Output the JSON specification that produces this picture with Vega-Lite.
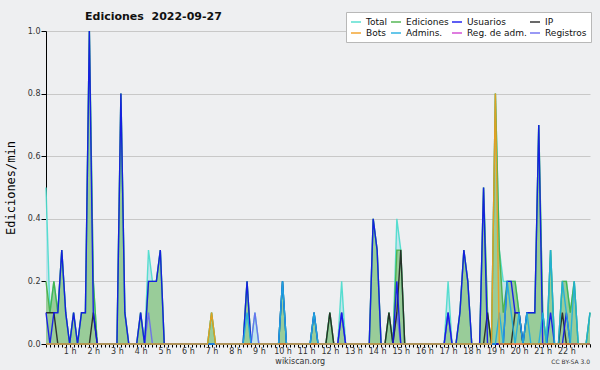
{
  "$schema": "https://vega.github.io/schema/vega-lite/v6.json",
  "width": 544,
  "height": 313,
  "autosize": {"type": "none"},
  "padding": {"left": 46, "top": 31, "right": 10, "bottom": 26},
  "background": "#eeeff1",
  "config": {"view": {"stroke": null}, "font": "DejaVu Sans"},
  "title": {"text": "Ediciones\u00a0\u00a02022-09-27", "anchor": "start", "frame": "group", "dx": 39, "offset": 0, "dy": 10, "fontSize": 11, "font": "DejaVu Sans", "fontWeight": "bold", "color": "#111111"},
  "data": {"values": [
    {"t":0,"Total":0.5,"Ediciones":0.2,"Usuarios":0.1,"IP":0.1,"Bots":0,"Admins":0,"RegAdm":0,"Registros":0},
    {"t":10,"Total":0.1,"Ediciones":0.1,"Usuarios":0,"IP":0.1,"Bots":0,"Admins":0,"RegAdm":0,"Registros":0},
    {"t":20,"Total":0.2,"Ediciones":0.2,"Usuarios":0.1,"IP":0.1,"Bots":0,"Admins":0,"RegAdm":0,"Registros":0},
    {"t":30,"Total":0.1,"Ediciones":0.1,"Usuarios":0.1,"IP":0,"Bots":0,"Admins":0,"RegAdm":0,"Registros":0},
    {"t":40,"Total":0.3,"Ediciones":0.3,"Usuarios":0.3,"IP":0,"Bots":0,"Admins":0,"RegAdm":0,"Registros":0},
    {"t":50,"Total":0.1,"Ediciones":0.1,"Usuarios":0.1,"IP":0,"Bots":0,"Admins":0,"RegAdm":0,"Registros":0},
    {"t":60,"Total":0,"Ediciones":0,"Usuarios":0,"IP":0,"Bots":0,"Admins":0,"RegAdm":0,"Registros":0},
    {"t":70,"Total":0.1,"Ediciones":0.1,"Usuarios":0.1,"IP":0,"Bots":0,"Admins":0,"RegAdm":0,"Registros":0},
    {"t":80,"Total":0,"Ediciones":0,"Usuarios":0,"IP":0,"Bots":0,"Admins":0,"RegAdm":0,"Registros":0},
    {"t":90,"Total":0.1,"Ediciones":0.1,"Usuarios":0.1,"IP":0,"Bots":0,"Admins":0,"RegAdm":0,"Registros":0},
    {"t":100,"Total":0.1,"Ediciones":0.1,"Usuarios":0.1,"IP":0,"Bots":0,"Admins":0,"RegAdm":0,"Registros":0},
    {"t":110,"Total":1,"Ediciones":1,"Usuarios":1,"IP":0,"Bots":0,"Admins":0,"RegAdm":0,"Registros":0},
    {"t":120,"Total":0.2,"Ediciones":0.2,"Usuarios":0.1,"IP":0.1,"Bots":0,"Admins":0,"RegAdm":0,"Registros":0},
    {"t":130,"Total":0,"Ediciones":0,"Usuarios":0,"IP":0,"Bots":0,"Admins":0,"RegAdm":0,"Registros":0},
    {"t":140,"Total":0,"Ediciones":0,"Usuarios":0,"IP":0,"Bots":0,"Admins":0,"RegAdm":0,"Registros":0},
    {"t":150,"Total":0,"Ediciones":0,"Usuarios":0,"IP":0,"Bots":0,"Admins":0,"RegAdm":0,"Registros":0},
    {"t":160,"Total":0,"Ediciones":0,"Usuarios":0,"IP":0,"Bots":0,"Admins":0,"RegAdm":0,"Registros":0},
    {"t":170,"Total":0,"Ediciones":0,"Usuarios":0,"IP":0,"Bots":0,"Admins":0,"RegAdm":0,"Registros":0},
    {"t":180,"Total":0,"Ediciones":0,"Usuarios":0,"IP":0,"Bots":0,"Admins":0,"RegAdm":0,"Registros":0},
    {"t":190,"Total":0.8,"Ediciones":0.8,"Usuarios":0.8,"IP":0,"Bots":0,"Admins":0,"RegAdm":0,"Registros":0},
    {"t":200,"Total":0.1,"Ediciones":0.1,"Usuarios":0.1,"IP":0,"Bots":0,"Admins":0,"RegAdm":0,"Registros":0},
    {"t":210,"Total":0,"Ediciones":0,"Usuarios":0,"IP":0,"Bots":0,"Admins":0,"RegAdm":0,"Registros":0},
    {"t":220,"Total":0,"Ediciones":0,"Usuarios":0,"IP":0,"Bots":0,"Admins":0,"RegAdm":0,"Registros":0},
    {"t":230,"Total":0,"Ediciones":0,"Usuarios":0,"IP":0,"Bots":0,"Admins":0,"RegAdm":0,"Registros":0},
    {"t":240,"Total":0.1,"Ediciones":0.1,"Usuarios":0.1,"IP":0,"Bots":0,"Admins":0,"RegAdm":0,"Registros":0},
    {"t":250,"Total":0,"Ediciones":0,"Usuarios":0,"IP":0,"Bots":0,"Admins":0,"RegAdm":0,"Registros":0},
    {"t":260,"Total":0.3,"Ediciones":0.2,"Usuarios":0.2,"IP":0,"Bots":0,"Admins":0,"RegAdm":0,"Registros":0.1},
    {"t":270,"Total":0.2,"Ediciones":0.2,"Usuarios":0.2,"IP":0,"Bots":0,"Admins":0,"RegAdm":0,"Registros":0},
    {"t":280,"Total":0.2,"Ediciones":0.2,"Usuarios":0.2,"IP":0,"Bots":0,"Admins":0,"RegAdm":0,"Registros":0},
    {"t":290,"Total":0.3,"Ediciones":0.3,"Usuarios":0.3,"IP":0,"Bots":0,"Admins":0,"RegAdm":0,"Registros":0},
    {"t":300,"Total":0,"Ediciones":0,"Usuarios":0,"IP":0,"Bots":0,"Admins":0,"RegAdm":0,"Registros":0},
    {"t":310,"Total":0,"Ediciones":0,"Usuarios":0,"IP":0,"Bots":0,"Admins":0,"RegAdm":0,"Registros":0},
    {"t":320,"Total":0,"Ediciones":0,"Usuarios":0,"IP":0,"Bots":0,"Admins":0,"RegAdm":0,"Registros":0},
    {"t":330,"Total":0,"Ediciones":0,"Usuarios":0,"IP":0,"Bots":0,"Admins":0,"RegAdm":0,"Registros":0},
    {"t":340,"Total":0,"Ediciones":0,"Usuarios":0,"IP":0,"Bots":0,"Admins":0,"RegAdm":0,"Registros":0},
    {"t":350,"Total":0,"Ediciones":0,"Usuarios":0,"IP":0,"Bots":0,"Admins":0,"RegAdm":0,"Registros":0},
    {"t":360,"Total":0,"Ediciones":0,"Usuarios":0,"IP":0,"Bots":0,"Admins":0,"RegAdm":0,"Registros":0},
    {"t":370,"Total":0,"Ediciones":0,"Usuarios":0,"IP":0,"Bots":0,"Admins":0,"RegAdm":0,"Registros":0},
    {"t":380,"Total":0,"Ediciones":0,"Usuarios":0,"IP":0,"Bots":0,"Admins":0,"RegAdm":0,"Registros":0},
    {"t":390,"Total":0,"Ediciones":0,"Usuarios":0,"IP":0,"Bots":0,"Admins":0,"RegAdm":0,"Registros":0},
    {"t":400,"Total":0,"Ediciones":0,"Usuarios":0,"IP":0,"Bots":0,"Admins":0,"RegAdm":0,"Registros":0},
    {"t":410,"Total":0,"Ediciones":0,"Usuarios":0,"IP":0,"Bots":0,"Admins":0,"RegAdm":0,"Registros":0},
    {"t":420,"Total":0.1,"Ediciones":0.1,"Usuarios":0,"IP":0,"Bots":0.1,"Admins":0,"RegAdm":0,"Registros":0},
    {"t":430,"Total":0,"Ediciones":0,"Usuarios":0,"IP":0,"Bots":0,"Admins":0,"RegAdm":0,"Registros":0},
    {"t":440,"Total":0,"Ediciones":0,"Usuarios":0,"IP":0,"Bots":0,"Admins":0,"RegAdm":0,"Registros":0},
    {"t":450,"Total":0,"Ediciones":0,"Usuarios":0,"IP":0,"Bots":0,"Admins":0,"RegAdm":0,"Registros":0},
    {"t":460,"Total":0,"Ediciones":0,"Usuarios":0,"IP":0,"Bots":0,"Admins":0,"RegAdm":0,"Registros":0},
    {"t":470,"Total":0,"Ediciones":0,"Usuarios":0,"IP":0,"Bots":0,"Admins":0,"RegAdm":0,"Registros":0},
    {"t":480,"Total":0,"Ediciones":0,"Usuarios":0,"IP":0,"Bots":0,"Admins":0,"RegAdm":0,"Registros":0},
    {"t":490,"Total":0,"Ediciones":0,"Usuarios":0,"IP":0,"Bots":0,"Admins":0,"RegAdm":0,"Registros":0},
    {"t":500,"Total":0,"Ediciones":0,"Usuarios":0,"IP":0,"Bots":0,"Admins":0,"RegAdm":0,"Registros":0},
    {"t":510,"Total":0.2,"Ediciones":0.2,"Usuarios":0.2,"IP":0,"Bots":0,"Admins":0.1,"RegAdm":0,"Registros":0},
    {"t":520,"Total":0,"Ediciones":0,"Usuarios":0,"IP":0,"Bots":0,"Admins":0,"RegAdm":0,"Registros":0},
    {"t":530,"Total":0.1,"Ediciones":0,"Usuarios":0,"IP":0,"Bots":0,"Admins":0,"RegAdm":0,"Registros":0.1},
    {"t":540,"Total":0,"Ediciones":0,"Usuarios":0,"IP":0,"Bots":0,"Admins":0,"RegAdm":0,"Registros":0},
    {"t":550,"Total":0,"Ediciones":0,"Usuarios":0,"IP":0,"Bots":0,"Admins":0,"RegAdm":0,"Registros":0},
    {"t":560,"Total":0,"Ediciones":0,"Usuarios":0,"IP":0,"Bots":0,"Admins":0,"RegAdm":0,"Registros":0},
    {"t":570,"Total":0,"Ediciones":0,"Usuarios":0,"IP":0,"Bots":0,"Admins":0,"RegAdm":0,"Registros":0},
    {"t":580,"Total":0,"Ediciones":0,"Usuarios":0,"IP":0,"Bots":0,"Admins":0,"RegAdm":0,"Registros":0},
    {"t":590,"Total":0,"Ediciones":0,"Usuarios":0,"IP":0,"Bots":0,"Admins":0,"RegAdm":0,"Registros":0},
    {"t":600,"Total":0.2,"Ediciones":0.2,"Usuarios":0.2,"IP":0,"Bots":0,"Admins":0.2,"RegAdm":0,"Registros":0},
    {"t":610,"Total":0,"Ediciones":0,"Usuarios":0,"IP":0,"Bots":0,"Admins":0,"RegAdm":0,"Registros":0},
    {"t":620,"Total":0,"Ediciones":0,"Usuarios":0,"IP":0,"Bots":0,"Admins":0,"RegAdm":0,"Registros":0},
    {"t":630,"Total":0,"Ediciones":0,"Usuarios":0,"IP":0,"Bots":0,"Admins":0,"RegAdm":0,"Registros":0},
    {"t":640,"Total":0,"Ediciones":0,"Usuarios":0,"IP":0,"Bots":0,"Admins":0,"RegAdm":0,"Registros":0},
    {"t":650,"Total":0,"Ediciones":0,"Usuarios":0,"IP":0,"Bots":0,"Admins":0,"RegAdm":0,"Registros":0},
    {"t":660,"Total":0,"Ediciones":0,"Usuarios":0,"IP":0,"Bots":0,"Admins":0,"RegAdm":0,"Registros":0},
    {"t":670,"Total":0,"Ediciones":0,"Usuarios":0,"IP":0,"Bots":0,"Admins":0,"RegAdm":0,"Registros":0},
    {"t":680,"Total":0.1,"Ediciones":0.1,"Usuarios":0.1,"IP":0,"Bots":0,"Admins":0.1,"RegAdm":0,"Registros":0},
    {"t":690,"Total":0,"Ediciones":0,"Usuarios":0,"IP":0,"Bots":0,"Admins":0,"RegAdm":0,"Registros":0},
    {"t":700,"Total":0,"Ediciones":0,"Usuarios":0,"IP":0,"Bots":0,"Admins":0,"RegAdm":0,"Registros":0},
    {"t":710,"Total":0,"Ediciones":0,"Usuarios":0,"IP":0,"Bots":0,"Admins":0,"RegAdm":0,"Registros":0},
    {"t":720,"Total":0.1,"Ediciones":0.1,"Usuarios":0,"IP":0.1,"Bots":0,"Admins":0,"RegAdm":0,"Registros":0},
    {"t":730,"Total":0,"Ediciones":0,"Usuarios":0,"IP":0,"Bots":0,"Admins":0,"RegAdm":0,"Registros":0},
    {"t":740,"Total":0,"Ediciones":0,"Usuarios":0,"IP":0,"Bots":0,"Admins":0,"RegAdm":0,"Registros":0},
    {"t":750,"Total":0.2,"Ediciones":0.1,"Usuarios":0.1,"IP":0,"Bots":0,"Admins":0,"RegAdm":0,"Registros":0.1},
    {"t":760,"Total":0,"Ediciones":0,"Usuarios":0,"IP":0,"Bots":0,"Admins":0,"RegAdm":0,"Registros":0},
    {"t":770,"Total":0,"Ediciones":0,"Usuarios":0,"IP":0,"Bots":0,"Admins":0,"RegAdm":0,"Registros":0},
    {"t":780,"Total":0,"Ediciones":0,"Usuarios":0,"IP":0,"Bots":0,"Admins":0,"RegAdm":0,"Registros":0},
    {"t":790,"Total":0,"Ediciones":0,"Usuarios":0,"IP":0,"Bots":0,"Admins":0,"RegAdm":0,"Registros":0},
    {"t":800,"Total":0,"Ediciones":0,"Usuarios":0,"IP":0,"Bots":0,"Admins":0,"RegAdm":0,"Registros":0},
    {"t":810,"Total":0,"Ediciones":0,"Usuarios":0,"IP":0,"Bots":0,"Admins":0,"RegAdm":0,"Registros":0},
    {"t":820,"Total":0,"Ediciones":0,"Usuarios":0,"IP":0,"Bots":0,"Admins":0,"RegAdm":0,"Registros":0},
    {"t":830,"Total":0.4,"Ediciones":0.4,"Usuarios":0.4,"IP":0,"Bots":0,"Admins":0,"RegAdm":0,"Registros":0},
    {"t":840,"Total":0.3,"Ediciones":0.3,"Usuarios":0.3,"IP":0,"Bots":0,"Admins":0,"RegAdm":0,"Registros":0},
    {"t":850,"Total":0,"Ediciones":0,"Usuarios":0,"IP":0,"Bots":0,"Admins":0,"RegAdm":0,"Registros":0},
    {"t":860,"Total":0,"Ediciones":0,"Usuarios":0,"IP":0,"Bots":0,"Admins":0,"RegAdm":0,"Registros":0},
    {"t":870,"Total":0.1,"Ediciones":0.1,"Usuarios":0,"IP":0.1,"Bots":0,"Admins":0,"RegAdm":0,"Registros":0},
    {"t":880,"Total":0,"Ediciones":0,"Usuarios":0,"IP":0,"Bots":0,"Admins":0,"RegAdm":0,"Registros":0},
    {"t":890,"Total":0.4,"Ediciones":0.3,"Usuarios":0.2,"IP":0.1,"Bots":0,"Admins":0,"RegAdm":0,"Registros":0.1},
    {"t":900,"Total":0.3,"Ediciones":0.3,"Usuarios":0,"IP":0.3,"Bots":0,"Admins":0,"RegAdm":0,"Registros":0},
    {"t":910,"Total":0,"Ediciones":0,"Usuarios":0,"IP":0,"Bots":0,"Admins":0,"RegAdm":0,"Registros":0},
    {"t":920,"Total":0,"Ediciones":0,"Usuarios":0,"IP":0,"Bots":0,"Admins":0,"RegAdm":0,"Registros":0},
    {"t":930,"Total":0,"Ediciones":0,"Usuarios":0,"IP":0,"Bots":0,"Admins":0,"RegAdm":0,"Registros":0},
    {"t":940,"Total":0,"Ediciones":0,"Usuarios":0,"IP":0,"Bots":0,"Admins":0,"RegAdm":0,"Registros":0},
    {"t":950,"Total":0,"Ediciones":0,"Usuarios":0,"IP":0,"Bots":0,"Admins":0,"RegAdm":0,"Registros":0},
    {"t":960,"Total":0,"Ediciones":0,"Usuarios":0,"IP":0,"Bots":0,"Admins":0,"RegAdm":0,"Registros":0},
    {"t":970,"Total":0,"Ediciones":0,"Usuarios":0,"IP":0,"Bots":0,"Admins":0,"RegAdm":0,"Registros":0},
    {"t":980,"Total":0,"Ediciones":0,"Usuarios":0,"IP":0,"Bots":0,"Admins":0,"RegAdm":0,"Registros":0},
    {"t":990,"Total":0,"Ediciones":0,"Usuarios":0,"IP":0,"Bots":0,"Admins":0,"RegAdm":0,"Registros":0},
    {"t":1000,"Total":0,"Ediciones":0,"Usuarios":0,"IP":0,"Bots":0,"Admins":0,"RegAdm":0,"Registros":0},
    {"t":1010,"Total":0,"Ediciones":0,"Usuarios":0,"IP":0,"Bots":0,"Admins":0,"RegAdm":0,"Registros":0},
    {"t":1020,"Total":0.2,"Ediciones":0.1,"Usuarios":0.1,"IP":0,"Bots":0,"Admins":0,"RegAdm":0,"Registros":0.1},
    {"t":1030,"Total":0,"Ediciones":0,"Usuarios":0,"IP":0,"Bots":0,"Admins":0,"RegAdm":0,"Registros":0},
    {"t":1040,"Total":0,"Ediciones":0,"Usuarios":0,"IP":0,"Bots":0,"Admins":0,"RegAdm":0,"Registros":0},
    {"t":1050,"Total":0.1,"Ediciones":0.1,"Usuarios":0.1,"IP":0,"Bots":0,"Admins":0,"RegAdm":0,"Registros":0},
    {"t":1060,"Total":0.3,"Ediciones":0.3,"Usuarios":0.3,"IP":0,"Bots":0,"Admins":0,"RegAdm":0,"Registros":0},
    {"t":1070,"Total":0.2,"Ediciones":0.2,"Usuarios":0.2,"IP":0,"Bots":0,"Admins":0,"RegAdm":0,"Registros":0},
    {"t":1080,"Total":0,"Ediciones":0,"Usuarios":0,"IP":0,"Bots":0,"Admins":0,"RegAdm":0,"Registros":0},
    {"t":1090,"Total":0,"Ediciones":0,"Usuarios":0,"IP":0,"Bots":0,"Admins":0,"RegAdm":0,"Registros":0},
    {"t":1100,"Total":0,"Ediciones":0,"Usuarios":0,"IP":0,"Bots":0,"Admins":0,"RegAdm":0,"Registros":0},
    {"t":1110,"Total":0.5,"Ediciones":0.5,"Usuarios":0.5,"IP":0,"Bots":0,"Admins":0,"RegAdm":0,"Registros":0},
    {"t":1120,"Total":0.1,"Ediciones":0.1,"Usuarios":0,"IP":0.1,"Bots":0,"Admins":0,"RegAdm":0,"Registros":0},
    {"t":1130,"Total":0,"Ediciones":0,"Usuarios":0,"IP":0,"Bots":0,"Admins":0,"RegAdm":0,"Registros":0},
    {"t":1140,"Total":0.8,"Ediciones":0.8,"Usuarios":0,"IP":0,"Bots":0.8,"Admins":0,"RegAdm":0,"Registros":0},
    {"t":1150,"Total":0.3,"Ediciones":0.3,"Usuarios":0,"IP":0,"Bots":0,"Admins":0.1,"RegAdm":0,"Registros":0},
    {"t":1160,"Total":0.2,"Ediciones":0.1,"Usuarios":0,"IP":0,"Bots":0,"Admins":0,"RegAdm":0,"Registros":0},
    {"t":1170,"Total":0.2,"Ediciones":0.2,"Usuarios":0.2,"IP":0,"Bots":0,"Admins":0.2,"RegAdm":0,"Registros":0},
    {"t":1180,"Total":0.2,"Ediciones":0.2,"Usuarios":0.2,"IP":0,"Bots":0,"Admins":0.1,"RegAdm":0,"Registros":0},
    {"t":1190,"Total":0.2,"Ediciones":0.2,"Usuarios":0.1,"IP":0.1,"Bots":0,"Admins":0,"RegAdm":0,"Registros":0},
    {"t":1200,"Total":0.1,"Ediciones":0.1,"Usuarios":0.1,"IP":0.1,"Bots":0,"Admins":0.1,"RegAdm":0,"Registros":0},
    {"t":1210,"Total":0,"Ediciones":0,"Usuarios":0,"IP":0,"Bots":0,"Admins":0,"RegAdm":0,"Registros":0},
    {"t":1220,"Total":0.1,"Ediciones":0.1,"Usuarios":0.1,"IP":0,"Bots":0,"Admins":0.1,"RegAdm":0,"Registros":0},
    {"t":1230,"Total":0.1,"Ediciones":0.1,"Usuarios":0.1,"IP":0,"Bots":0,"Admins":0,"RegAdm":0,"Registros":0},
    {"t":1240,"Total":0.1,"Ediciones":0.1,"Usuarios":0.1,"IP":0,"Bots":0,"Admins":0,"RegAdm":0,"Registros":0},
    {"t":1250,"Total":0.7,"Ediciones":0.7,"Usuarios":0.7,"IP":0,"Bots":0,"Admins":0,"RegAdm":0,"Registros":0},
    {"t":1260,"Total":0.1,"Ediciones":0.1,"Usuarios":0,"IP":0,"Bots":0,"Admins":0.1,"RegAdm":0,"Registros":0},
    {"t":1270,"Total":0,"Ediciones":0,"Usuarios":0,"IP":0,"Bots":0,"Admins":0,"RegAdm":0,"Registros":0},
    {"t":1280,"Total":0.3,"Ediciones":0.3,"Usuarios":0.1,"IP":0,"Bots":0,"Admins":0.3,"RegAdm":0,"Registros":0},
    {"t":1290,"Total":0,"Ediciones":0,"Usuarios":0,"IP":0,"Bots":0,"Admins":0,"RegAdm":0,"Registros":0},
    {"t":1300,"Total":0,"Ediciones":0,"Usuarios":0,"IP":0,"Bots":0,"Admins":0,"RegAdm":0,"Registros":0},
    {"t":1310,"Total":0.2,"Ediciones":0.2,"Usuarios":0,"IP":0.1,"Bots":0,"Admins":0.2,"RegAdm":0,"Registros":0},
    {"t":1320,"Total":0.2,"Ediciones":0.2,"Usuarios":0.1,"IP":0,"Bots":0,"Admins":0.1,"RegAdm":0,"Registros":0},
    {"t":1330,"Total":0.1,"Ediciones":0.1,"Usuarios":0,"IP":0,"Bots":0,"Admins":0,"RegAdm":0,"Registros":0},
    {"t":1340,"Total":0.2,"Ediciones":0.2,"Usuarios":0,"IP":0,"Bots":0,"Admins":0.2,"RegAdm":0,"Registros":0},
    {"t":1350,"Total":0,"Ediciones":0,"Usuarios":0,"IP":0,"Bots":0,"Admins":0,"RegAdm":0,"Registros":0},
    {"t":1360,"Total":0,"Ediciones":0,"Usuarios":0,"IP":0,"Bots":0,"Admins":0,"RegAdm":0,"Registros":0},
    {"t":1370,"Total":0,"Ediciones":0,"Usuarios":0,"IP":0,"Bots":0,"Admins":0,"RegAdm":0,"Registros":0},
    {"t":1380,"Total":0.1,"Ediciones":0.1,"Usuarios":0,"IP":0,"Bots":0,"Admins":0.1,"RegAdm":0,"Registros":0}
  ]},
  "layer": [
    {
      "mark": {"type": "area", "color": "#c2e4ec", "opacity": 1},
      "encoding": {
        "x": {"field": "t", "type": "quantitative", "scale": {"domain": [0, 1380], "nice": false, "zero": false},
          "axis": {"title": null, "tickCount": 138, "grid": false, "tickSize": 3, "labelPadding": 0, "labelFontSize": 8, "labelFont": "DejaVu Sans", "labelColor": "#333333", "labelOverlap": false, "labelFlush": false, "labelBound": false, "domainColor": "#000000", "tickColor": "#000000",
            "labelExpr": "datum.value % 60 == 0 && datum.value > 0 && datum.value < 1380 ? (datum.value / 60) + ' h' : ''"}},
        "y": {"field": "Total", "type": "quantitative", "scale": {"domain": [0, 1], "nice": false},
          "axis": {"title": "Ediciones/min", "titleFont": "DejaVu Sans Mono", "titleFontSize": 12, "titleFontWeight": "normal", "titleColor": "#000000", "titlePadding": 10,
            "values": [0,0.05,0.1,0.15,0.2,0.25,0.3,0.35,0.4,0.45,0.5,0.55,0.6,0.65,0.7,0.75,0.8,0.85,0.9,0.95,1],
            "labelExpr": "round(datum.value * 100) % 20 == 0 ? format(datum.value, '.1f') : ''",
            "labelOverlap": false, "labelFontSize": 8, "labelFont": "DejaVu Sans", "labelColor": "#333333", "labelPadding": 1, "tickSize": 5,
            "domainColor": "#000000", "tickColor": "#000000", "grid": true, "gridColor": "#c8c8c8",
            "gridOpacity": {"condition": {"test": "round(datum.value * 100) % 20 == 0 && datum.value > 0", "value": 1}, "value": 0}}}
      }
    },
    {
      "mark": {"type": "area", "color": "#99cc99", "opacity": 1},
      "encoding": {
        "x": {"field": "t", "type": "quantitative", "title": null},
        "y": {"field": "Ediciones", "type": "quantitative", "title": "Ediciones/min"}
      }
    },
    {
      "transform": [{"fold": ["Total", "Ediciones", "Registros", "RegAdm", "IP", "Usuarios", "Admins", "Bots"], "as": ["serie", "v"]}],
      "mark": {"type": "line", "strokeWidth": 1.4, "opacity": 0.9},
      "encoding": {
        "x": {"field": "t", "type": "quantitative", "title": null},
        "y": {"field": "v", "type": "quantitative", "title": "Ediciones/min"},
        "color": {"field": "serie", "type": "nominal",
          "scale": {"domain": ["Total", "Ediciones", "Usuarios", "IP", "Bots", "Admins", "RegAdm", "Registros"],
            "range": ["#48dccc", "#44b044", "#1010ee", "#222222", "#f39c1e", "#1eaee0", "#d040d0", "#6a6af0"]},
          "legend": {"title": null, "orient": "none", "legendX": 300, "legendY": -19, "direction": "horizontal", "columns": 4, "gridAlign": "each", "fillColor": "#ffffff", "strokeColor": "#b8b8b8", "padding": 4,
            "symbolType": "stroke", "symbolSize": 100, "symbolStrokeWidth": 1.5, "labelFontSize": 9, "labelFont": "DejaVu Sans", "labelColor": "#111111",
            "columnPadding": 0, "rowPadding": 0, "labelOffset": 4,
            "labelExpr": "datum.label == 'Admins' ? 'Admins.' : datum.label == 'RegAdm' ? 'Reg. de adm.' : datum.label"}
        }
      }
    },
    {
      "data": {"values": [{}]},
      "mark": {"type": "text", "text": "wikiscan.org", "dy": 20, "baseline": "alphabetic", "align": "center", "fontSize": 8, "font": "DejaVu Sans", "color": "#333333", "clip": false},
      "encoding": {
        "x": {"datum": 645, "type": "quantitative"},
        "y": {"datum": 0, "type": "quantitative"}
      }
    },
    {
      "data": {"values": [{}]},
      "mark": {"type": "text", "text": "CC BY-SA 3.0", "dy": 20, "baseline": "alphabetic", "align": "right", "fontSize": 6, "font": "DejaVu Sans", "color": "#333333", "clip": false},
      "encoding": {
        "x": {"datum": 1380, "type": "quantitative"},
        "y": {"datum": 0, "type": "quantitative"}
      }
    }
  ]
}
